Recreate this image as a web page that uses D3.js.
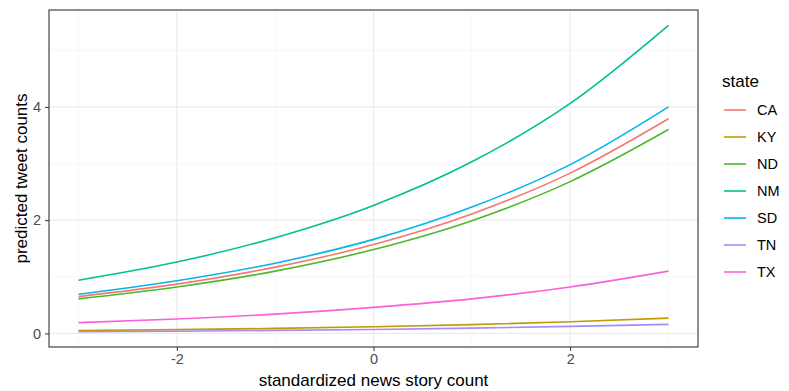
<!DOCTYPE html>
<html><head><meta charset="utf-8">
<script src="https://cdn.jsdelivr.net/npm/d3@7"></script>
<style>body{margin:0;background:#fff}svg{display:block}text{font-family:"Liberation Sans",Arial,sans-serif}</style>
</head><body><svg id="c" width="789" height="391"></svg>
<script>
const xs = [-3,-2,-1,0,1,2,3];
const states = ["CA","KY","ND","NM","SD","TN","TX"];
const colors = ["#F8766D","#C49A00","#4DB82A","#00C094","#00B6EB","#A58AFF","#FB61D7"];
const CA = [0.65,0.87,1.17,1.57,2.11,2.83,3.79];
const KY = [0.05,0.066,0.088,0.117,0.155,0.205,0.27];
const ND = [0.61,0.82,1.10,1.48,1.99,2.68,3.6];
const NM = [0.94,1.26,1.69,2.26,3.03,4.06,5.44];
const SD = [0.69,0.93,1.24,1.66,2.23,2.98,4.0];
const TN = [0.03,0.039,0.053,0.07,0.093,0.124,0.16];
const TX = [0.19,0.255,0.34,0.46,0.61,0.82,1.1];
const seriesVals = {CA,KY,ND,NM,SD,TN,TX};
const xTicks = [-2,0,2];
const yTicks = [0,2,4];
const xMinor = [-3,-1,1,3];
const yMinor = [1,3,5];

const svg = d3.select("#c");
const L=49, R=698, T=10, B=347;
const x = d3.scaleLinear().domain([-3.3,3.3]).range([L,R]);
const y = d3.scaleLinear().domain([-0.24,5.71]).range([B,T]);

const g = svg.append("g");
g.selectAll(".gm").data(xMinor).join("line").attr("x1",d=>x(d)).attr("x2",d=>x(d)).attr("y1",T).attr("y2",B).attr("stroke","#F2F2F2").attr("stroke-width",0.6);
g.selectAll(".ym").data(yMinor).join("line").attr("y1",d=>y(d)).attr("y2",d=>y(d)).attr("x1",L).attr("x2",R).attr("stroke","#F2F2F2").attr("stroke-width",0.6);
g.selectAll(".gx").data(xTicks).join("line").attr("x1",d=>x(d)).attr("x2",d=>x(d)).attr("y1",T).attr("y2",B).attr("stroke","#EBEBEB").attr("stroke-width",1.1);
g.selectAll(".gy").data(yTicks).join("line").attr("y1",d=>y(d)).attr("y2",d=>y(d)).attr("x1",L).attr("x2",R).attr("stroke","#EBEBEB").attr("stroke-width",1.1);

const line = d3.line().x((d,i)=>x(xs[i])).y(d=>y(d)).curve(d3.curveMonotoneX);
states.forEach((s,i)=>{
  svg.append("path").datum(seriesVals[s]).attr("d",line).attr("fill","none").attr("stroke",colors[i]).attr("stroke-width",1.6);
});

svg.append("rect").attr("x",L).attr("y",T).attr("width",R-L).attr("height",B-T).attr("fill","none").attr("stroke","#333").attr("stroke-width",1.1);

const fmt = d => String(d);
const xa = svg.append("g").attr("transform",`translate(0,${B})`).call(d3.axisBottom(x).tickValues(xTicks).tickFormat(fmt).tickSize(4).tickPadding(3));
const ya = svg.append("g").attr("transform",`translate(${L},0)`).call(d3.axisLeft(y).tickValues(yTicks).tickFormat(fmt).tickSize(4).tickPadding(4));
[xa,ya].forEach(a=>{a.select(".domain").remove();a.selectAll("line").attr("stroke","#333");a.selectAll("text").attr("fill","#4D4D4D").style("font-size","14.5px").style("font-family","Liberation Sans, Arial, sans-serif");});

svg.append("text").attr("x",(L+R)/2).attr("y",386).attr("text-anchor","middle").style("font-size","17px").attr("fill","#000").text("standardized news story count");
svg.append("text").attr("transform",`translate(27,${(T+B)/2}) rotate(-90)`).attr("text-anchor","middle").style("font-size","17px").attr("fill","#000").text("predicted tweet counts");

const lg = svg.append("g");
lg.append("text").attr("x",722).attr("y",87).style("font-size","17px").text("state");
states.forEach((s,i)=>{
  const yy = 110 + i*27;
  lg.append("line").attr("x1",724).attr("x2",746).attr("y1",yy).attr("y2",yy).attr("stroke",colors[i]).attr("stroke-width",1.6);
  lg.append("text").attr("x",757).attr("y",yy+5).style("font-size","14.5px").text(s);
});
</script></body></html>
